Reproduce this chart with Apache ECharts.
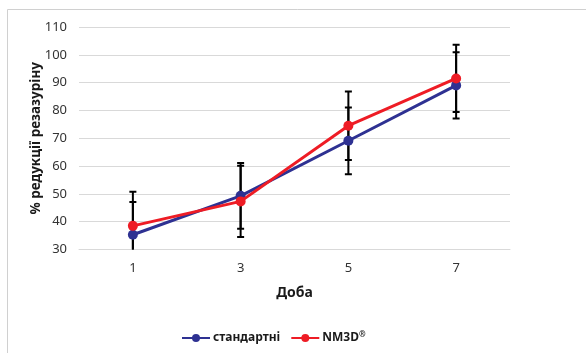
<!DOCTYPE html>
<html>
<head>
<meta charset="utf-8">
<script src="https://cdn.jsdelivr.net/npm/echarts@6/dist/echarts.min.js"></script>
<style>
  html, body { margin: 0; padding: 0; background: #fff; }
  #chart { width: 586px; height: 353px; }
</style>
</head>
<body>
<div id="chart"></div>
<script>
// дані з графіка
const days = ['1', '3', '5', '7'];
const standardMean = [35.3, 49.3, 69.1, 89.0];
const standardSd = [11.8, 11.8, 12.0, 11.9];
const nm3dMean = [38.5, 47.3, 74.5, 91.5];
const nm3dSd = [12.3, 12.8, 12.3, 12.1];
const seriesNames = ['стандартні', 'NM3D®'];

const chart = echarts.init(document.getElementById('chart'));

// точки для планок похибок: [індекс, низ, верх]
const errData = (mean, sd) => mean.map((m, i) => [i, m - sd[i], m + sd[i]]);

const renderErr = (params, api) => {
  const x = api.value(0);
  const lo = api.coord([x, api.value(1)]);
  const hi = api.coord([x, api.value(2)]);
  const w = 3.5;
  const style = { stroke: '#000', lineWidth: 2 };
  return {
    type: 'group',
    children: [
      { type: 'line', shape: { x1: lo[0], y1: lo[1], x2: hi[0], y2: hi[1] }, style },
      { type: 'line', shape: { x1: hi[0] - w, y1: hi[1], x2: hi[0] + w, y2: hi[1] }, style },
      { type: 'line', shape: { x1: lo[0] - w, y1: lo[1], x2: lo[0] + w, y2: lo[1] }, style }
    ]
  };
};

const option = {
  backgroundColor: '#fff',
  animation: false,
  textStyle: { fontFamily: 'Noto Sans' },
  graphic: [{
    type: 'rect',
    shape: { x: 7.5, y: 9.5, width: 620, height: 400 },
    style: { fill: 'none', stroke: '#d0d0d0', lineWidth: 1 },
    silent: true
  }],
  grid: { left: 79, right: 76, top: 27, bottom: 103.5 },
  legend: {
    data: seriesNames,
    left: 176,
    top: 326,
    itemWidth: 28,
    itemHeight: 10,
    itemGap: 10,
    // ® як верхній індекс
    formatter: name => name.replace('®', '{sup|®}'),
    textStyle: {
      fontSize: 12, fontWeight: 'bold', color: '#1a1a1a', padding: [0, 0, 0, -2],
      rich: { sup: { fontSize: 8, fontWeight: 'bold', color: '#1a1a1a', verticalAlign: 'top', padding: [0, 0, 6, 0] } }
    }
  },
  xAxis: {
    type: 'category',
    data: days,
    boundaryGap: true,
    name: 'Доба',
    nameLocation: 'middle',
    nameGap: 37,
    nameTextStyle: { fontSize: 14, fontWeight: 'bold', color: '#1a1a1a' },
    axisLine: { lineStyle: { color: '#d9d9d9' } },
    axisTick: { show: false },
    axisLabel: { fontSize: 13, color: '#333', margin: 12 }
  },
  yAxis: {
    type: 'value',
    min: 30,
    max: 110,
    interval: 10,
    name: '% редукції резазуріну',
    nameLocation: 'middle',
    nameGap: 36,
    nameMoveOverlap: false,
    nameTextStyle: { fontSize: 13.5, fontWeight: 'bold', color: '#1a1a1a' },
    axisLine: { show: false },
    axisTick: { show: false },
    axisLabel: { fontSize: 13, color: '#333', margin: 12 },
    splitLine: { lineStyle: { color: '#d9d9d9', width: 1 } }
  },
  series: [
    {
      type: 'custom',
      renderItem: renderErr,
      data: errData(standardMean, standardSd),
      clip: true,
      z: 1,
      encode: { x: 0, y: [1, 2] }
    },
    {
      type: 'custom',
      renderItem: renderErr,
      data: errData(nm3dMean, nm3dSd),
      clip: true,
      z: 1,
      encode: { x: 0, y: [1, 2] }
    },
    {
      name: seriesNames[0],
      type: 'line',
      data: standardMean,
      symbol: 'circle',
      symbolSize: 10,
      lineStyle: { width: 3, color: '#2e3192' },
      itemStyle: { color: '#2e3192' },
      z: 3
    },
    {
      name: seriesNames[1],
      type: 'line',
      data: nm3dMean,
      symbol: 'circle',
      symbolSize: 10,
      lineStyle: { width: 3, color: '#ee1c25' },
      itemStyle: { color: '#ee1c25' },
      z: 4
    }
  ]
};

chart.setOption(option);
</script>
</body>
</html>
